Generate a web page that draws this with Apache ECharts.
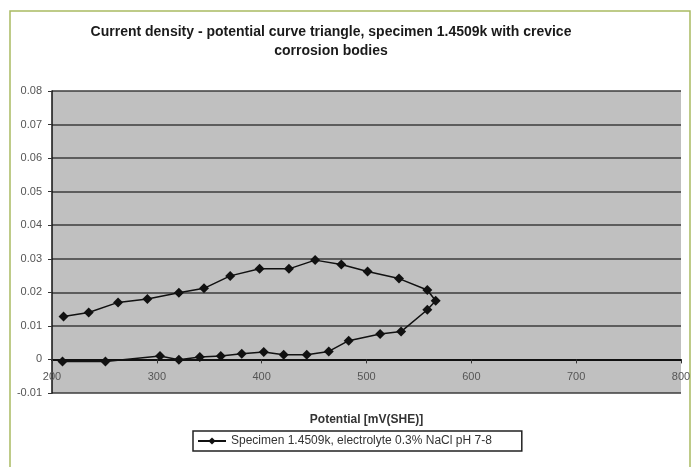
<!DOCTYPE html>
<html>
<head>
<meta charset="utf-8">
<script src="https://cdn.jsdelivr.net/npm/echarts@6/dist/echarts.min.js"></script>
<style>
  html, body { margin: 0; padding: 0; background: #fff; }
  #chart { width: 694px; height: 467px; }
</style>
</head>
<body>
<div id="chart"></div>
<script>
// potential in mV(SHE), forward scan (lower branch) then reverse scan (upper branch)
const potential = [210, 251, 303, 321, 341, 361, 381, 402, 421, 443, 464, 483, 513, 533, 558, 566,
  558, 531, 501, 476, 451, 426, 398, 370, 345, 321, 291, 263, 235, 211]
// current density
const currentDensity = [-0.0006, -0.0006, 0.0010, -0.0001, 0.0007, 0.0010, 0.0017, 0.0022, 0.0014, 0.0014, 0.0024, 0.0056, 0.0076, 0.0083, 0.0148, 0.0175,
  0.0207, 0.0241, 0.0262, 0.0283, 0.0296, 0.0270, 0.0270, 0.0249, 0.0212, 0.0199, 0.0180, 0.0170, 0.0140, 0.0128]
const seriesName = 'Specimen 1.4509k, electrolyte 0.3% NaCl pH 7-8'

let myChart = echarts.init(document.getElementById('chart'))

let chartOption = {
  backgroundColor: '#ffffff',
  animation: false,
  textStyle: { fontFamily: 'Liberation Sans, Arial, sans-serif' },
  graphic: [{
    type: 'rect',
    shape: { x: 10, y: 11, width: 680, height: 480 },
    style: { fill: 'none', stroke: '#a9ba62', lineWidth: 1.5 },
    z: -1
  }],
  title: {
    text: 'Current density - potential curve triangle, specimen 1.4509k with crevice\ncorrosion bodies',
    left: 326,
    top: 18,
    textAlign: 'center',
    textStyle: { fontSize: 14, fontWeight: 'bold', color: '#1a1a1a', lineHeight: 19 }
  },
  legend: {
    data: [seriesName],
    left: 193,
    top: 431,
    padding: [4, 30, 4, 4],
    borderColor: '#222',
    borderWidth: 1.5,
    borderRadius: 0,
    itemWidth: 28,
    itemHeight: 9,
    itemGap: 4,
    textStyle: { fontSize: 12, color: '#333' }
  },
  grid: {
    left: 52,
    right: 13,
    top: 91,
    bottom: 74,
    show: true,
    backgroundColor: '#c0c0c0',
    borderWidth: 0
  },
  xAxis: {
    type: 'value',
    min: 200,
    max: 800,
    interval: 100,
    offset: -33.6,
    name: 'Potential [mV(SHE)]',
    nameLocation: 'middle',
    nameGap: 54,
    nameTextStyle: { fontSize: 12, fontWeight: 'bold', color: '#333' },
    axisLine: { onZero: false, lineStyle: { color: '#111', width: 2 } },
    axisTick: { show: true, length: 4, lineStyle: { color: '#333' } },
    axisLabel: { fontSize: 11, color: '#555', margin: 12 },
    splitLine: { show: false }
  },
  yAxis: {
    type: 'value',
    min: -0.01,
    max: 0.08,
    interval: 0.01,
    axisLine: { show: true, lineStyle: { color: '#111', width: 1.5 } },
    axisTick: { show: true, length: 4, lineStyle: { color: '#333' } },
    axisLabel: {
      fontSize: 11,
      color: '#555',
      margin: 10,
      formatter: function (v) {
        let r = Math.round(v * 100) / 100
        return r === 0 ? '0' : r.toFixed(2)
      }
    },
    splitLine: { show: true, lineStyle: { color: '#3c3c3c', width: 1.5 } }
  },
  series: [{
    name: seriesName,
    type: 'line',
    data: potential.map((p, i) => [p, currentDensity[i]]),
    symbol: 'diamond',
    symbolSize: 10,
    itemStyle: { color: '#111' },
    lineStyle: { color: '#111', width: 1.5 }
  }]
}

myChart.setOption(chartOption)
</script>
</body>
</html>
